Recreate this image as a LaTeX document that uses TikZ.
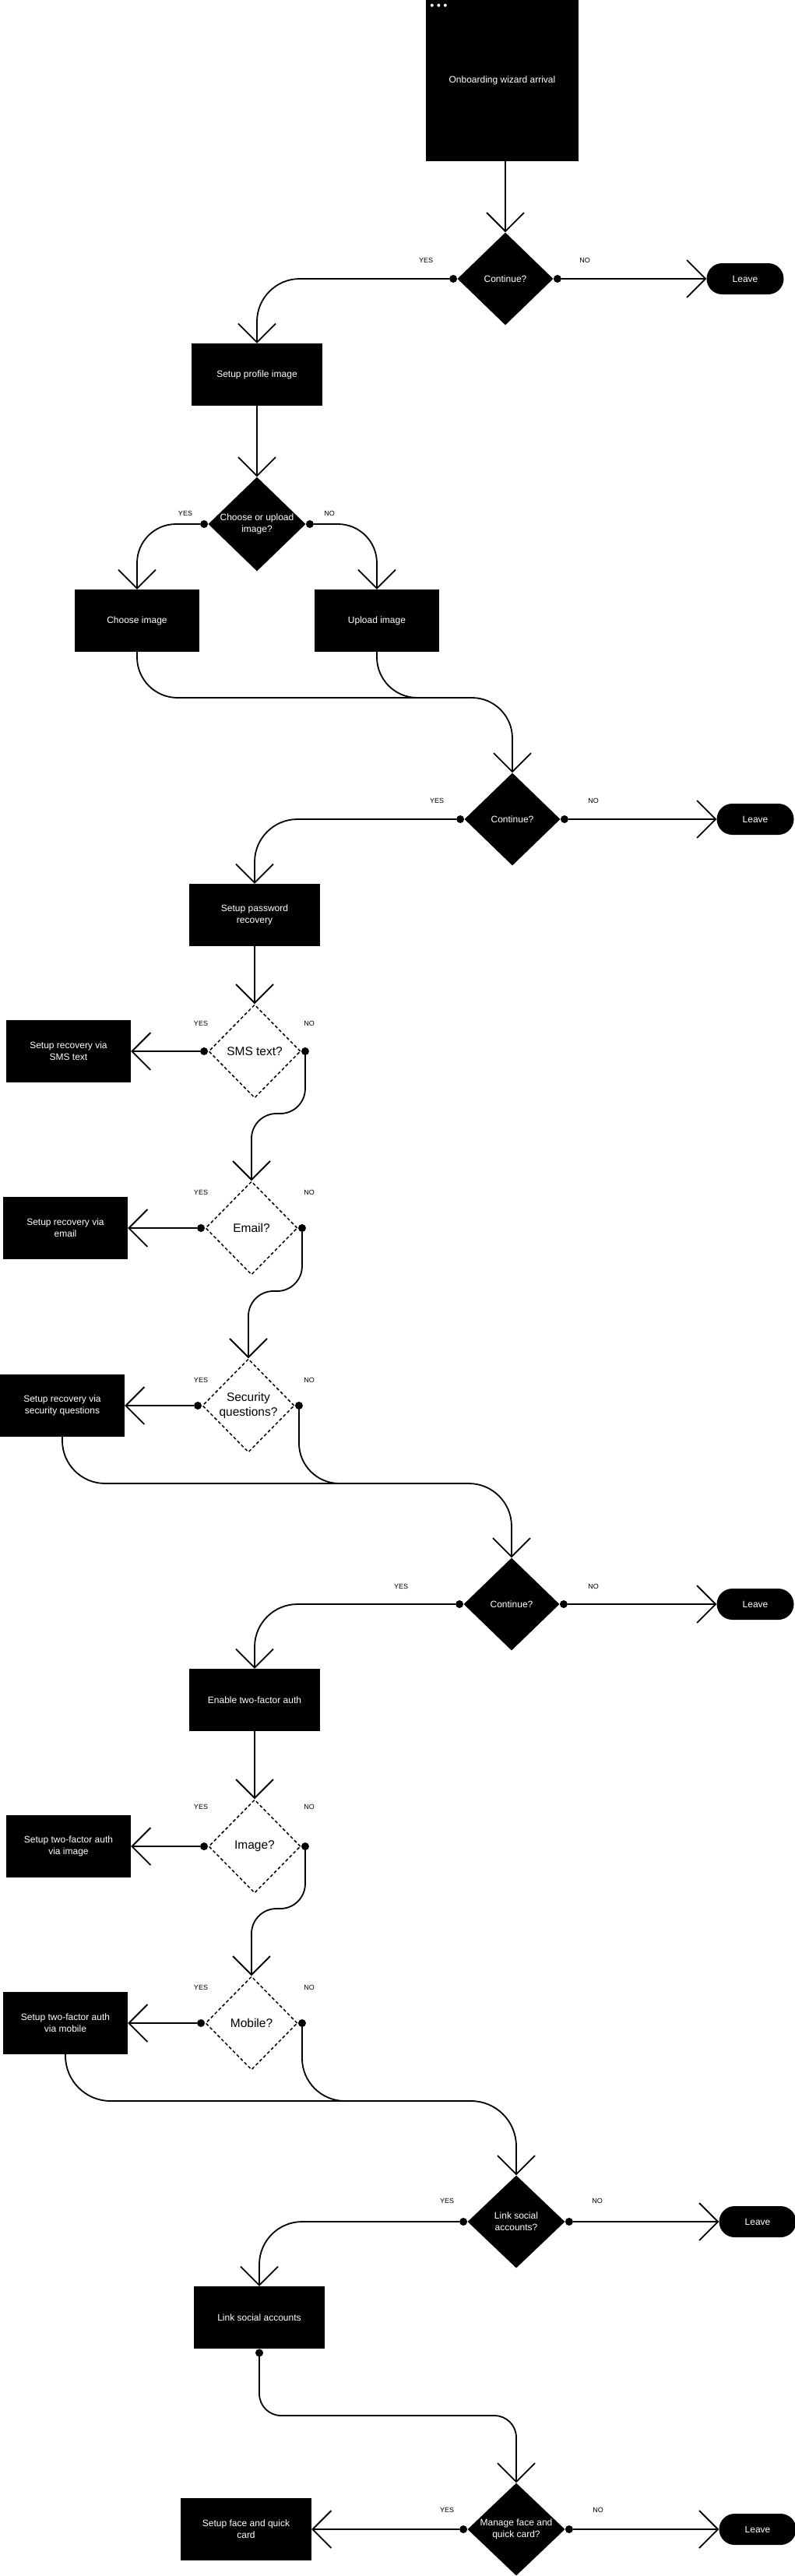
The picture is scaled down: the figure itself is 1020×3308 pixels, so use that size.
\documentclass[tikz,border=0pt]{standalone}
\usepackage{fontspec}
\setmainfont{Liberation Sans}
\usetikzlibrary{shapes.geometric,arrows.meta,positioning}
\newcommand{\fs}[2]{\fontsize{#1}{#2}\selectfont}
\tikzset{
  nbox/.style={fill=black,text=white,minimum width=160pt,minimum height=80pt,inner sep=2pt,align=center,font=\fs{12}{15}},
  nwide/.style={nbox,minimum width=168pt},
  decide/.style={diamond,fill=black,text=white,minimum width=123pt,minimum height=119pt,inner sep=0pt,align=center,font=\fs{12}{15}},
  ask/.style={diamond,draw,line width=1.5pt,dash pattern=on 4pt off 3pt,minimum width=118pt,minimum height=120pt,inner sep=0pt,align=center,font=\fs{15.5}{19}},
  quit/.style={fill=black,text=white,rounded corners=20pt,minimum width=99pt,minimum height=40pt,font=\fs{12}{15}},
  dotn/.style={circle,fill=black,inner sep=0pt,minimum size=10pt},
  lbl/.style={font=\fs{9}{10}},
  flow/.style={line width=1.8pt},
  go/.style={flow,-{Straight Barb[length=24pt,width=48pt]}}
}
\begin{document}
\begin{tikzpicture}[x=1pt,y=-1pt,line join=round]
\useasboundingbox (0,0) rectangle (1020,3308);
% profile image
\node[nbox,minimum width=196pt,minimum height=207pt] (start) at (645,103.5) {Onboarding wizard arrival};
\foreach \i in {0,1,2}
  \fill[white] (start.north west) ++(8+8.5*\i,7) circle[radius=2pt];
\node[decide] (c1) at (649,358) {Continue?};
\node[quit] (leave1) at (957,358) {Leave};
\node[nwide] (profile) at (330,481) {Setup profile image};
\node[decide,minimum width=125pt] (d2) at (330,673) {Choose or upload\\image?};
\node[nbox] (choose) at (176,797) {Choose image};
\node[nbox] (upload) at (484,797) {Upload image};
\coordinate (j1) at (658,896);
\coordinate (m1) at ([xshift=-100pt]j1);
\node[decide] (c3) at (658,1052) {Continue?};
\node[quit] (leave2) at (970,1052) {Leave};
% password recovery
\node[nwide] (recovery) at (327,1175) {Setup password\\recovery};
\node[ask] (sms) at (327,1350) {SMS text?};
\node[nbox] (smsbox) at (88,1350) {Setup recovery via\\SMS text};
\node[ask] (email) at (323,1577) {Email?};
\node[nbox] (emailbox) at (84,1577) {Setup recovery via\\email};
\node[ask] (security) at (319,1805) {Security\\questions?};
\node[nbox] (secbox) at (80,1805) {Setup recovery via\\security questions};
\coordinate (j2) at (657,1905);
\coordinate (m2) at ([xshift=-100pt]j2);
\node[decide] (c4) at (657,2060) {Continue?};
\node[quit] (leave3) at (970,2060) {Leave};
% two-factor
\node[nwide] (enable) at (327,2183) {Enable two-factor auth};
\node[ask] (image) at (327,2371) {Image?};
\node[nbox] (imgbox) at (88,2371) {Setup two-factor auth\\via image};
\node[ask] (mobile) at (323,2598) {Mobile?};
\node[nbox] (mobbox) at (84,2598) {Setup two-factor auth\\via mobile};
\coordinate (j3) at (663,2698);
\coordinate (m3) at ([xshift=-100pt]j3);
% social and face
\node[decide,minimum width=125pt] (c5) at (663,2853) {Link social\\accounts?};
\node[quit] (leave4) at (973,2853) {Leave};
\node[nwide] (social) at (333,2976) {Link social accounts};
\node[dotn,below=0pt of social] (sociald) {};
\coordinate (j4) at (663,3102);
\node[decide,minimum width=125pt] (c6) at (663,3248) {Manage face and\\quick card?};
\node[quit] (leave5) at (973,3248) {Leave};
\node[nwide] (face) at (316,3248) {Setup face and quick\\card};
\foreach \n in {c1,d2,c3,sms,email,security,c4,image,mobile,c5,c6}{
  \node[dotn,left=0pt of \n] (\n y) {};
  \node[dotn,right=0pt of \n] (\n n) {};
}
\foreach \n/\xa/\xb/\y in {c1/547/751/334, d2/238/423/659, c3/561/762/1028, sms/258/397/1314,
  email/258/397/1531, security/258/397/1772, c4/515/762/2037, image/258/397/2320,
  mobile/258/397/2552, c5/574/767/2826, c6/574/768/3223}{
  \node[lbl] (\n yes) at (\xa,\y) {YES};
  \node[lbl] (\n no) at (\xb,\y) {NO};
}
\draw[go] (c1.north |- start.south) -- (c1.north);
\draw[go,rounded corners=55pt] (c1y) -| (profile.north);
\draw[go] (c1n) -- (leave1);
\draw[go] (profile) -- (d2);
\draw[go,rounded corners=50pt] (d2y) -| (choose.north);
\draw[go,rounded corners=50pt] (d2n) -| (upload.north);
\draw[go,rounded corners=52pt] (choose.south) |- (j1) -- (c3.north);
\draw[flow,rounded corners=52pt] (upload.south) |- (m1);
\draw[go,rounded corners=55pt] (c3y) -| (recovery.north);
\draw[go] (c3n) -- (leave2);
\draw[go] (recovery) -- (sms);
\draw[go] (smsy) -- (smsbox);
\draw[go,rounded corners=32pt] (smsn.center) -- ++(0,80) -| (email.north);
\draw[go] (emaily) -- (emailbox);
\draw[go,rounded corners=32pt] (emailn.center) -- ++(0,81) -| (security.north);
\draw[go] (securityy) -- (secbox);
\draw[go,rounded corners=55pt] (secbox.south) |- (j2) -- (c4.north);
\draw[flow,rounded corners=52pt] (securityn.center) |- (m2);
\draw[go,rounded corners=55pt] (c4y) -| (enable.north);
\draw[go] (c4n) -- (leave3);
\draw[go] (enable) -- (image);
\draw[go] (imagey) -- (imgbox);
\draw[go,rounded corners=32pt] (imagen.center) -- ++(0,80) -| (mobile.north);
\draw[go] (mobiley) -- (mobbox);
\draw[go,rounded corners=58pt] (mobbox.south) |- (j3) -- (c5.north);
\draw[flow,rounded corners=55pt] (mobilen.center) |- (m3);
\draw[go,rounded corners=55pt] (c5y) -| (social.north);
\draw[go] (c5n) -- (leave4);
\draw[go,rounded corners=28pt] (sociald.center) |- (j4) -- (c6.north);
\draw[go] (c6y) -- (face);
\draw[go] (c6n) -- (leave5);
\end{tikzpicture}
\end{document}
